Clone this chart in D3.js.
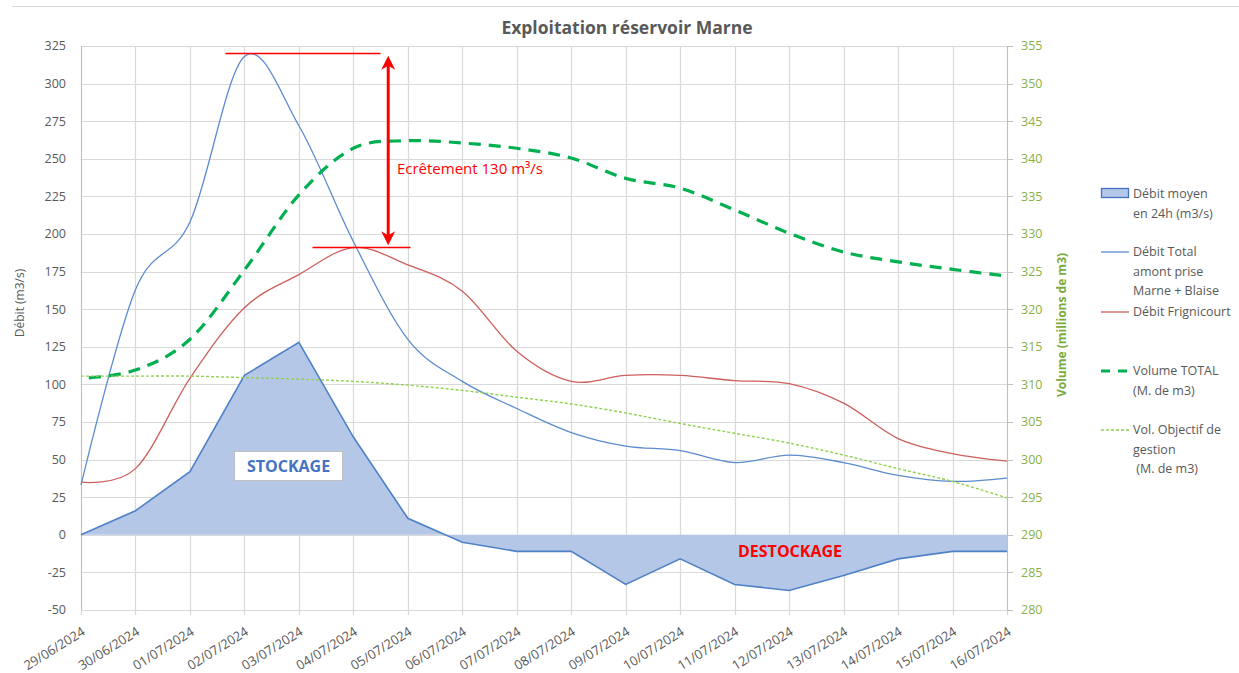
<!DOCTYPE html>
<html>
<head>
<meta charset="utf-8">
<script src="https://cdn.jsdelivr.net/npm/d3@7"></script>
<style>
  body { margin: 0; background: #fff; }
  svg { font-family: "Open Sans", "Noto Sans", sans-serif; }
</style>
</head>
<body>
<script>
// dates on the x axis
var dates = ["29/06/2024","30/06/2024","01/07/2024","02/07/2024","03/07/2024","04/07/2024",
  "05/07/2024","06/07/2024","07/07/2024","08/07/2024","09/07/2024","10/07/2024",
  "11/07/2024","12/07/2024","13/07/2024","14/07/2024","15/07/2024","16/07/2024"];

// left axis (m3/s)
var debitMoyen = [0, 16, 42, 106, 128, 65, 11, -5, -11, -11, -33, -16, -33, -37, -27, -16, -11, -11];
var debitTotal = [33, 163, 208, 318, 272, 195, 130, 102, 84, 68, 59, 56, 48, 53, 48, 39.5, 35.5, 37.7];
var debitFrignicourt = [35, 44, 104, 151, 173, 191, 179.5, 162, 122, 102, 106, 106, 102.5, 100.5, 87.5, 64, 54, 49];

// right axis (millions de m3)
var volumeTotal = [310.8, 311.9, 316, 325.2, 335.2, 341.4, 342.4, 342.1, 341.4, 340.1, 337.4, 336.1, 333.2, 330.1, 327.6, 326.3, 325.3, 324.4];
var volObjectif = [311.1, 311.1, 311.1, 310.9, 310.7, 310.4, 309.9, 309.2, 308.3, 307.4, 306.2, 304.8, 303.5, 302.2, 300.6, 298.8, 297.1, 294.9];

var leftTicks = [-50,-25,0,25,50,75,100,125,150,175,200,225,250,275,300,325];
var rightTicks = [280,285,290,295,300,305,310,315,320,325,330,335,340,345,350,355];

var width = 1239, height = 673;
var margin = {left: 81, right: 1007, top: 46, bottom: 610};

var svg = d3.select("body").append("svg")
  .attr("width", width).attr("height", height);

var x = d3.scaleLinear().domain([0, dates.length - 1]).range([margin.left, margin.right]);
var yL = d3.scaleLinear().domain([-50, 325]).range([margin.bottom, margin.top]);
var yR = d3.scaleLinear().domain([280, 355]).range([margin.bottom, margin.top]);

var grey = "#595959", grid = "#d9d9d9";
var blue = "#5b8bd0", redLine = "#cc5f5c";

// top border
svg.append("line").attr("x1", 12).attr("x2", width).attr("y1", 6.5).attr("y2", 6.5)
  .attr("stroke", grid);

// title
svg.append("text").attr("x", 627).attr("y", 34).attr("text-anchor", "middle")
  .attr("fill", grey).style("font-size", "17.5px").style("font-weight", "bold")
  .text("Exploitation réservoir Marne");

// gridlines
svg.append("g").selectAll("line").data(leftTicks).enter().append("line")
  .attr("x1", margin.left).attr("x2", margin.right)
  .attr("y1", d => Math.round(yL(d)) + 0.5).attr("y2", d => Math.round(yL(d)) + 0.5)
  .attr("stroke", grid).attr("stroke-width", 1.2);
svg.append("g").selectAll("line").data(dates).enter().append("line")
  .attr("x1", (d, i) => Math.round(x(i)) + 0.5).attr("x2", (d, i) => Math.round(x(i)) + 0.5)
  .attr("y1", margin.top).attr("y2", margin.bottom + 5)
  .attr("stroke", grid).attr("stroke-width", 1.2);

// axis lines + right ticks
svg.append("line").attr("x1", margin.right + 0.5).attr("x2", margin.right + 0.5)
  .attr("y1", margin.top).attr("y2", margin.bottom).attr("stroke", "#bfbfbf");
svg.append("g").selectAll("line").data(rightTicks).enter().append("line")
  .attr("x1", margin.right).attr("x2", margin.right + 6)
  .attr("y1", d => Math.round(yR(d)) + 0.5).attr("y2", d => Math.round(yR(d)) + 0.5)
  .attr("stroke", "#bfbfbf");
svg.append("line").attr("x1", margin.left + 0.5).attr("x2", margin.left + 0.5)
  .attr("y1", margin.top).attr("y2", margin.bottom).attr("stroke", "#bfbfbf");

// tick labels
svg.append("g").selectAll("text").data(leftTicks).enter().append("text")
  .attr("x", 66).attr("y", d => yL(d)).attr("dy", "0.35em")
  .attr("text-anchor", "end").attr("fill", grey).style("font-size", "12.5px")
  .text(d => d);
svg.append("g").selectAll("text").data(rightTicks).enter().append("text")
  .attr("x", 1021).attr("y", d => yR(d)).attr("dy", "0.35em")
  .attr("fill", "#86b04a").style("font-size", "12.5px")
  .text(d => d);
svg.append("g").selectAll("text").data(dates).enter().append("text")
  .attr("transform", (d, i) => "translate(" + (x(i) + 5) + ",634) rotate(-32)")
  .attr("text-anchor", "end").attr("fill", grey).style("font-size", "13px")
  .text(d => d);

// axis titles
svg.append("text").attr("transform", "translate(24,303) rotate(-90)")
  .attr("text-anchor", "middle").attr("fill", grey).style("font-size", "12px")
  .text("Débit (m3/s)");
svg.append("text").attr("transform", "translate(1066,325) rotate(-90)")
  .attr("text-anchor", "middle").attr("fill", "#7aab3c").style("font-size", "12px")
  .style("font-weight", "bold")
  .text("Volume (millions de m3)");

// area: debit moyen
var area = d3.area().x((d, i) => x(i)).y0(yL(0)).y1(d => yL(d));
svg.append("path").datum(debitMoyen).attr("d", area)
  .attr("fill", "#b4c7e7");
svg.append("path").datum(debitMoyen)
  .attr("d", d3.line().x((d, i) => x(i)).y(d => yL(d)))
  .attr("fill", "none").attr("stroke", "#4f81c7").attr("stroke-width", 1.6);

// smooth lines
var lineL = d3.line().curve(d3.curveCardinal.tension(0)).x((d, i) => x(i)).y(d => yL(d));
var lineR = d3.line().curve(d3.curveCardinal.tension(0)).x((d, i) => x(i)).y(d => yR(d));

svg.append("path").datum(debitTotal).attr("d", lineL)
  .attr("fill", "none").attr("stroke", blue).attr("stroke-width", 1.3);
svg.append("path").datum(debitFrignicourt).attr("d", lineL)
  .attr("fill", "none").attr("stroke", redLine).attr("stroke-width", 1.3);
svg.append("path").datum(volumeTotal).attr("d", lineR)
  .attr("fill", "none").attr("stroke", "#00b050").attr("stroke-width", 3.2)
  .attr("stroke-dasharray", "12,8").attr("stroke-dashoffset", 12);
svg.append("path").datum(volObjectif).attr("d", lineR)
  .attr("fill", "none").attr("stroke", "#92d050").attr("stroke-width", 1.4)
  .attr("stroke-dasharray", "3,2");

// annotations
var red = "#ff0000";
svg.append("line").attr("x1", x(2.65)).attr("x2", x(5.5))
  .attr("y1", yL(320)).attr("y2", yL(320)).attr("stroke", red).attr("stroke-width", 1.6);
svg.append("line").attr("x1", x(4.25)).attr("x2", x(6.05))
  .attr("y1", yL(191)).attr("y2", yL(191)).attr("stroke", red).attr("stroke-width", 1.6);

var ax = x(5.64), aTop = yL(318.5), aBot = yL(192.5);
svg.append("line").attr("x1", ax).attr("x2", ax).attr("y1", aTop + 8).attr("y2", aBot - 8)
  .attr("stroke", red).attr("stroke-width", 3);
svg.append("path")
  .attr("d", "M" + ax + "," + aTop + " L" + (ax + 7) + "," + (aTop + 14) + " L" + ax + "," + (aTop + 10) +
    " L" + (ax - 7) + "," + (aTop + 14) + " Z")
  .attr("fill", red);
svg.append("path")
  .attr("d", "M" + ax + "," + aBot + " L" + (ax + 7) + "," + (aBot - 14) + " L" + ax + "," + (aBot - 10) +
    " L" + (ax - 7) + "," + (aBot - 14) + " Z")
  .attr("fill", red);

svg.append("text").attr("x", x(5.8)).attr("y", 174).attr("fill", red)
  .style("font-size", "15px")
  .text("Ecrêtement 130 m³/s");

// STOCKAGE box
svg.append("rect").attr("x", 234.5).attr("y", 451.5).attr("width", 108).attr("height", 29)
  .attr("fill", "#fff").attr("stroke", "#bfbfbf");
svg.append("text").attr("x", 288.5).attr("y", 472).attr("text-anchor", "middle")
  .attr("fill", "#4472c4").style("font-size", "16px").style("font-weight", "bold")
  .text("STOCKAGE");
svg.append("text").attr("x", 738).attr("y", 557)
  .attr("fill", red).style("font-size", "16px").style("font-weight", "bold")
  .text("DESTOCKAGE");

// legend
var legend = [
  {type: "area", y: 194, lines: ["Débit moyen", "en 24h (m3/s)"]},
  {type: "blue", y: 252, lines: ["Débit Total", "amont prise", "Marne + Blaise"]},
  {type: "red", y: 312, lines: ["Débit Frignicourt"]},
  {type: "vol", y: 371, lines: ["Volume TOTAL", "(M. de m3)"]},
  {type: "obj", y: 430, lines: ["Vol. Objectif de", "gestion", " (M. de m3)"]}
];
var lg = svg.append("g");
legend.forEach(function(l) {
  if (l.type == "area") {
    lg.append("rect").attr("x", 1101.5).attr("y", l.y - 5.5).attr("width", 27).attr("height", 9)
      .attr("fill", "#b4c7e7").attr("stroke", "#4472c4").attr("stroke-width", 1.3);
  } else {
    var s = {blue: [blue, 1.3, null], red: [redLine, 1.3, null],
             vol: ["#00b050", 3.2, "9,8"], obj: ["#92d050", 1.4, "3,2"]}[l.type];
    lg.append("line").attr("x1", 1101).attr("x2", 1129).attr("y1", l.y).attr("y2", l.y)
      .attr("stroke", s[0]).attr("stroke-width", s[1]).attr("stroke-dasharray", s[2]);
  }
  l.lines.forEach(function(t, j) {
    lg.append("text").attr("x", 1133).attr("y", l.y + j * 19.3).attr("dy", "0.35em")
      .attr("fill", grey).style("font-size", "12.5px").style("white-space", "pre")
      .attr("xml:space", "preserve").text(t);
  });
});
</script>
</body>
</html>
